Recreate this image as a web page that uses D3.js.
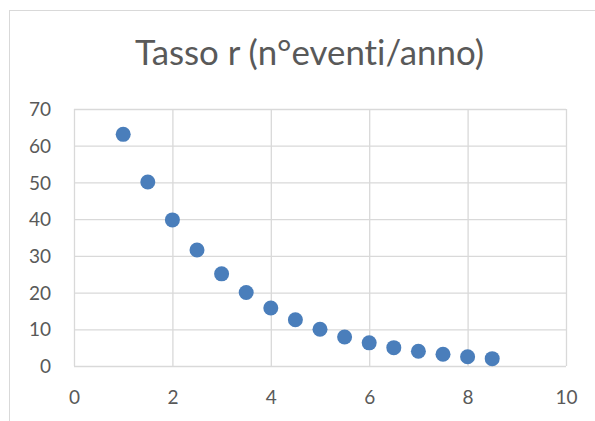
<!DOCTYPE html>
<html><head><meta charset="utf-8">
<script src="https://cdn.jsdelivr.net/npm/d3@7"></script>
<style>body{margin:0;background:#fff}svg{display:block}text{font-variant-ligatures:none}</style>
</head><body>
<svg id="c" width="595" height="421"></svg>
<script>
const title = "Tasso r (n°eventi/anno)";
const xValues = [1, 1.5, 2, 2.5, 3, 3.5, 4, 4.5, 5, 5.5, 6, 6.5, 7, 7.5, 8, 8.5];
const yValues = [63.1, 50.1, 39.8, 31.6, 25.1, 20.0, 15.8, 12.6, 10.0, 7.9, 6.3, 5.0, 4.0, 3.2, 2.5, 2.0];
const xTicks = [0, 2, 4, 6, 8, 10];
const yTicks = [0, 10, 20, 30, 40, 50, 60, 70];

const svg = d3.select("#c");
const plot = {l: 74, r: 566, t: 109, b: 366};
const font = "Lato, 'Liberation Sans', Arial, sans-serif";
const grey = "#595959", grid = "#d9d9d9";

svg.append("rect").attr("x", 9.5).attr("y", 10.5).attr("width", 600).attr("height", 420)
  .attr("fill", "#fff").attr("stroke", grid).attr("stroke-width", 1);

const x = d3.scaleLinear().domain([0, 10]).range([plot.l, plot.r]);
const y = d3.scaleLinear().domain([0, 70]).range([plot.b, plot.t]);

const gx = svg.append("g").attr("transform", `translate(0,${plot.b})`)
  .call(d3.axisBottom(x).tickValues(xTicks).tickSize(-(plot.b - plot.t)).tickPadding(25).tickFormat(d3.format("d")));
const gy = svg.append("g").attr("transform", `translate(${plot.l},0)`)
  .call(d3.axisLeft(y).tickValues(yTicks).tickSize(-(plot.r - plot.l)).tickPadding(23).tickFormat(d3.format("d")));
[gx, gy].forEach(g => {
  g.select(".domain").remove();
  g.selectAll(".tick line").attr("stroke", grid).attr("stroke-width", 1.3);
  g.selectAll(".tick text").attr("fill", grey).style("font-family", font).style("font-size", "19px");
});
gy.selectAll(".tick text").attr("dy", "0.35em");

svg.append("g").selectAll("circle").data(xValues.map((v, i) => [v, yValues[i]])).join("circle")
  .attr("cx", d => x(d[0])).attr("cy", d => y(d[1])).attr("r", 7.5).attr("fill", "#4a7ebb");

const t = svg.append("text").attr("x", 309.5).attr("y", 64.5).attr("text-anchor", "middle")
  .attr("fill", grey).style("font-family", font).style("font-size", "32px").text(title);
const w = t.node().getComputedTextLength();
t.style("font-size", (32 * 349 / w) + "px");
</script>
</body></html>
